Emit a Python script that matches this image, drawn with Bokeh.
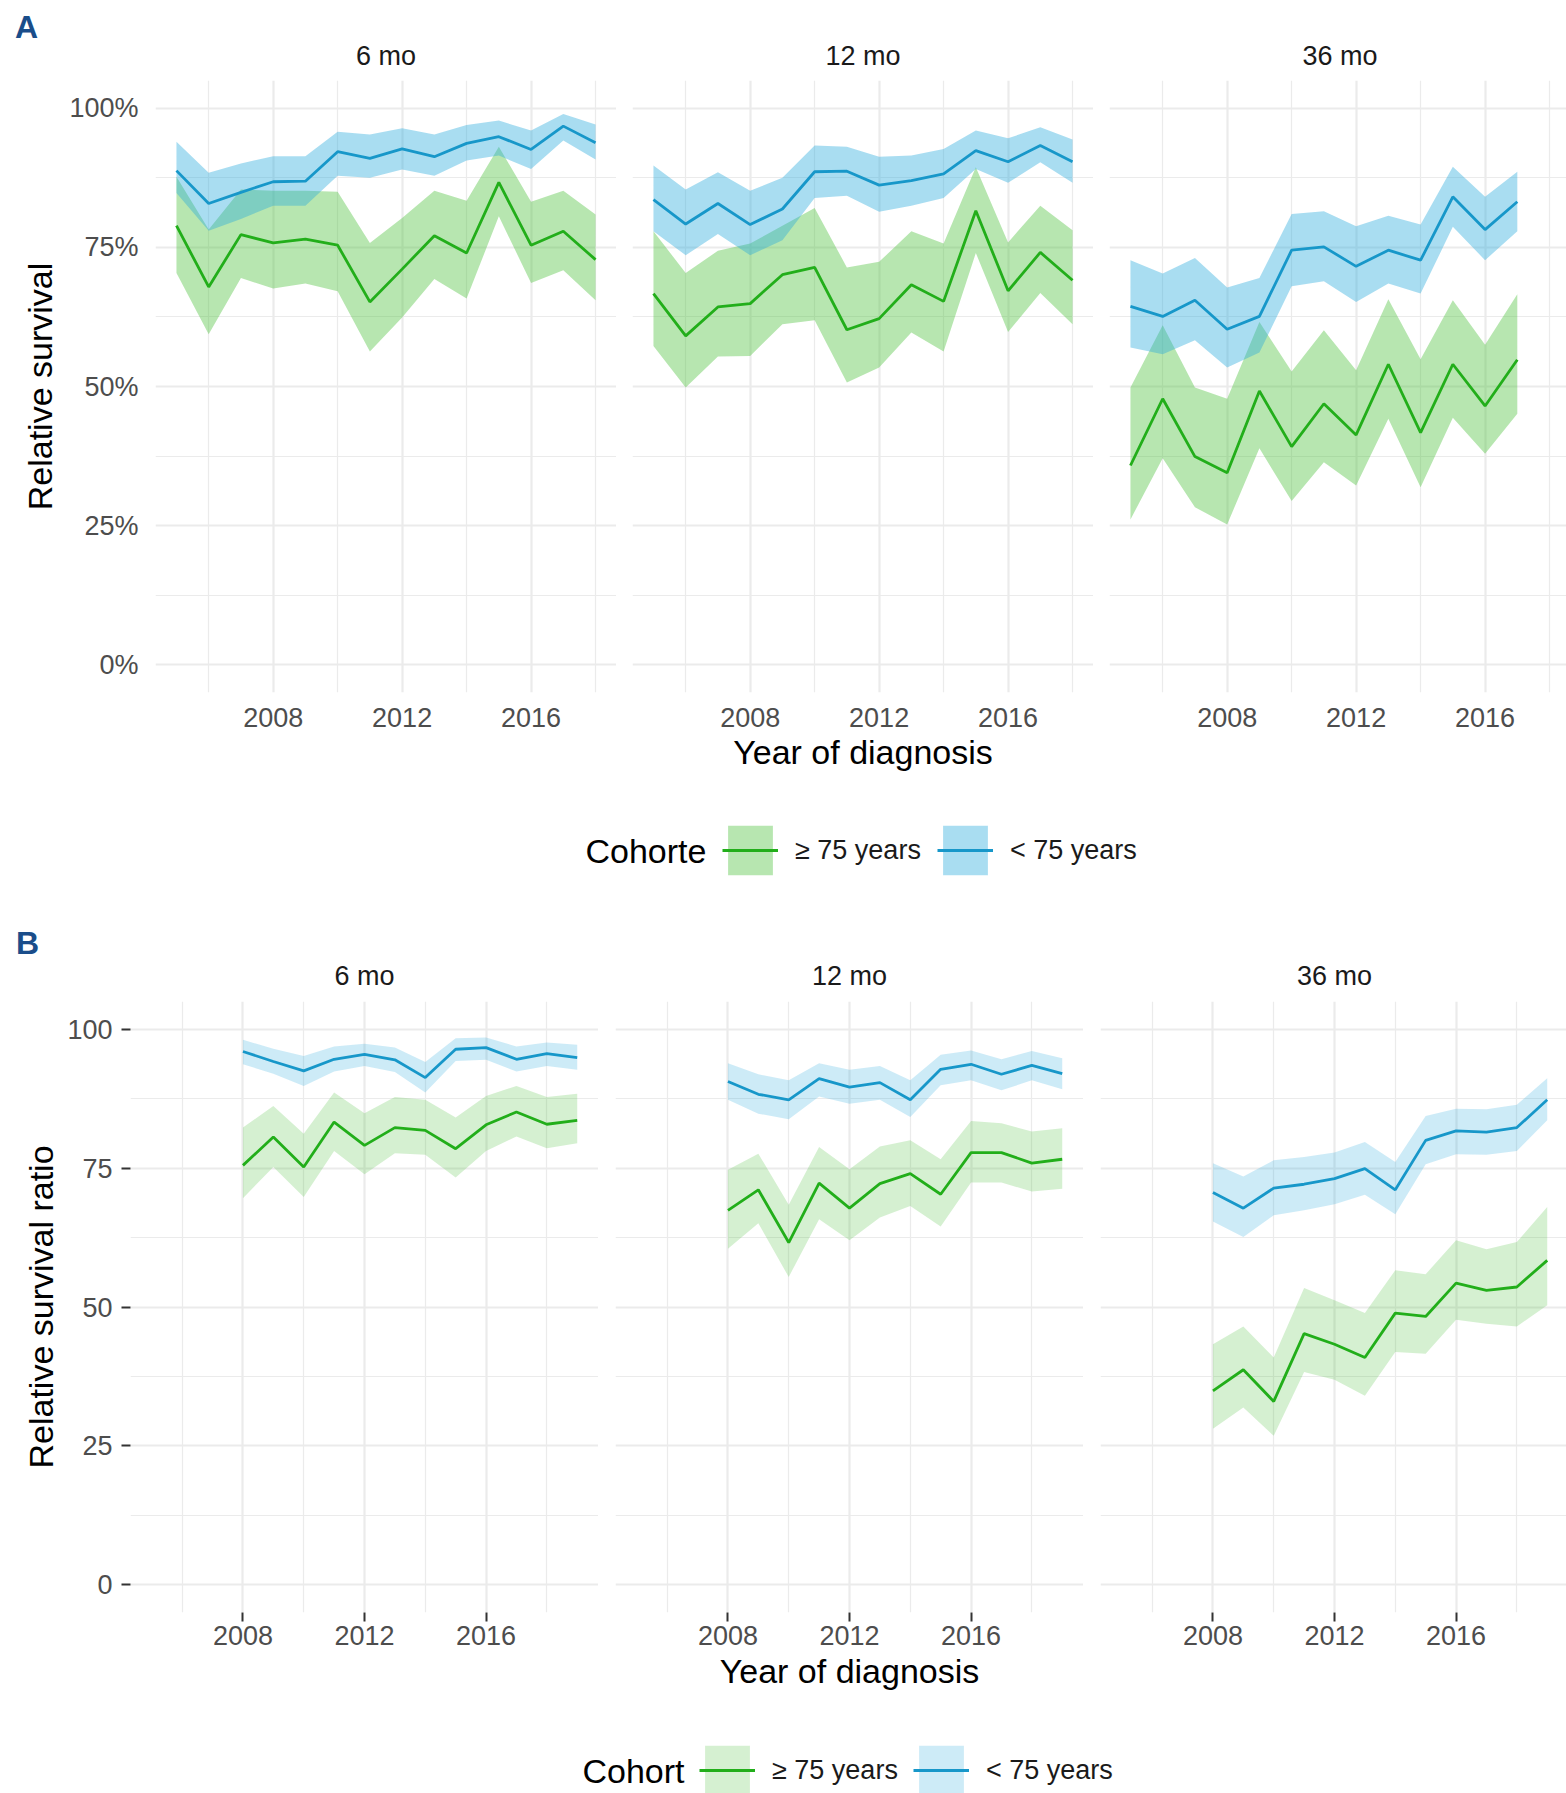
from bokeh.plotting import figure
from bokeh.models import (Range1d, FixedTicker, Label, Legend, LegendItem,
                          PrintfTickFormatter, ColumnDataSource)
from bokeh.layouts import column, row
from bokeh.embed import file_html
from bokeh.resources import INLINE

# ------------------------------------------------------------------ data
years_a = [2005, 2006, 2007, 2008, 2009, 2010, 2011, 2012, 2013, 2014, 2015, 2016, 2017, 2018]
years_a36 = [2005, 2006, 2007, 2008, 2009, 2010, 2011, 2012, 2013, 2014, 2015, 2016, 2017]
years_b = [2008, 2009, 2010, 2011, 2012, 2013, 2014, 2015, 2016, 2017, 2018, 2019]

cohort_labels = ["≥ 75 years", "< 75 years"]
facet_labels = ["6 mo", "12 mo", "36 mo"]
x_ticks = [2008, 2012, 2016]
x_minor = [2006, 2010, 2014, 2018]
y_ticks = [0, 25, 50, 75, 100]
y_minor = [12.5, 37.5, 62.5, 87.5]

# Panel A - relative survival (%)
a6_old = [78.9, 67.9, 77.3, 75.8, 76.5, 75.4, 65.2, 71.1, 77.1, 74.0, 86.7, 75.4, 77.9, 72.8]
a6_old_lo = [70.4, 59.4, 69.5, 67.6, 68.5, 67.1, 56.3, 62.4, 69.3, 65.8, 80.6, 68.6, 70.9, 65.5]
a6_old_hi = [87.7, 78.2, 85.4, 85.2, 85.2, 85.0, 75.8, 80.3, 85.2, 83.4, 93.1, 83.2, 85.2, 80.9]
a6_young = [88.8, 82.9, 84.9, 86.8, 86.9, 92.2, 91.0, 92.7, 91.3, 93.7, 94.9, 92.6, 96.8, 93.8]
a6_young_lo = [84.8, 78.0, 80.1, 82.5, 82.5, 87.9, 87.5, 89.0, 87.9, 90.6, 91.5, 89.1, 94.2, 90.8]
a6_young_hi = [94.0, 88.4, 90.1, 91.4, 91.4, 95.8, 95.3, 96.4, 95.3, 97.0, 97.8, 96.0, 99.0, 97.1]

a12_old = [66.7, 59.1, 64.3, 64.9, 70.1, 71.4, 60.2, 62.2, 68.3, 65.3, 81.6, 67.2, 74.1, 69.1]
a12_old_lo = [57.3, 49.8, 55.4, 55.5, 61.2, 61.9, 50.7, 53.4, 59.7, 56.3, 74.0, 59.8, 66.8, 61.2]
a12_old_hi = [77.9, 70.4, 74.4, 75.7, 78.9, 82.1, 71.4, 72.4, 77.9, 75.7, 89.4, 75.9, 82.5, 78.1]
a12_young = [83.6, 79.2, 82.9, 79.1, 81.9, 88.6, 88.7, 86.2, 87.0, 88.2, 92.4, 90.4, 93.3, 90.4]
a12_young_lo = [77.9, 73.6, 77.4, 73.6, 76.3, 83.9, 84.3, 81.4, 82.5, 83.9, 89.1, 86.6, 90.3, 86.6]
a12_young_hi = [89.7, 85.4, 88.5, 85.2, 87.5, 93.3, 93.1, 91.3, 91.5, 92.7, 96.0, 94.6, 96.6, 94.4]

a36_old = [35.8, 47.8, 37.4, 34.5, 49.2, 39.2, 46.9, 41.3, 54.0, 41.7, 54.0, 46.5, 54.8]
a36_old_lo = [26.1, 37.1, 28.3, 25.2, 38.9, 29.4, 36.4, 32.2, 44.2, 31.9, 44.4, 37.9, 45.1]
a36_old_hi = [49.8, 61.0, 49.8, 47.8, 61.6, 52.7, 60.1, 52.9, 65.7, 54.9, 65.5, 57.5, 66.6]
a36_young = [64.4, 62.6, 65.5, 60.3, 62.6, 74.5, 75.1, 71.6, 74.5, 72.7, 84.1, 78.2, 83.2]
a36_young_lo = [57.0, 55.8, 58.3, 53.4, 56.1, 68.0, 68.9, 65.2, 68.5, 66.7, 78.7, 72.7, 77.9]
a36_young_hi = [72.7, 70.3, 73.1, 67.8, 69.5, 81.0, 81.5, 78.8, 80.7, 79.1, 89.5, 84.1, 88.6]

# Panel B - relative survival ratio
b6_old = [75.5, 80.6, 75.2, 83.3, 79.1, 82.3, 81.8, 78.5, 82.8, 85.1, 82.9, 83.6]
b6_old_lo = [69.6, 75.2, 69.8, 78.1, 73.9, 77.7, 77.4, 73.3, 78.1, 80.7, 78.6, 79.5]
b6_old_hi = [82.3, 86.2, 81.2, 88.6, 84.9, 87.8, 87.3, 84.1, 88.0, 89.8, 87.8, 88.4]
b6_young = [96.0, 94.2, 92.5, 94.6, 95.5, 94.5, 91.3, 96.4, 96.7, 94.6, 95.6, 94.9]
b6_young_lo = [93.7, 92.0, 89.8, 92.4, 93.4, 92.3, 88.6, 94.3, 94.5, 92.4, 93.4, 92.7]
b6_young_hi = [98.1, 96.5, 95.2, 96.9, 97.4, 96.7, 94.1, 98.4, 98.5, 96.9, 97.6, 97.2]

b12_old = [67.4, 71.1, 61.6, 72.3, 67.8, 72.2, 74.0, 70.3, 77.8, 77.8, 75.9, 76.6]
b12_old_lo = [60.5, 65.1, 55.4, 65.8, 62.0, 66.1, 68.2, 64.5, 72.4, 72.4, 70.8, 71.3]
b12_old_hi = [74.7, 77.6, 68.4, 78.8, 74.8, 78.9, 80.0, 76.6, 83.5, 83.1, 81.6, 82.2]
b12_young = [90.6, 88.3, 87.3, 91.1, 89.6, 90.4, 87.3, 92.8, 93.7, 91.9, 93.5, 92.0]
b12_young_lo = [87.3, 84.8, 83.8, 87.9, 86.6, 87.3, 84.2, 89.9, 90.8, 89.0, 90.8, 89.2]
b12_young_hi = [93.9, 91.9, 90.8, 93.9, 92.7, 93.4, 90.8, 95.4, 96.2, 94.6, 96.1, 94.8]

b36_old = [34.9, 38.7, 33.0, 45.2, 43.3, 40.9, 48.9, 48.3, 54.3, 53.0, 53.6, 58.4]
b36_old_lo = [28.1, 31.9, 26.8, 38.3, 36.9, 34.0, 41.9, 41.6, 47.7, 47.0, 46.5, 50.3]
b36_old_hi = [43.3, 46.5, 40.9, 53.4, 51.2, 48.9, 56.6, 55.9, 62.0, 60.4, 61.7, 68.0]
b36_young = [70.6, 67.8, 71.4, 72.1, 73.1, 74.9, 71.1, 80.0, 81.7, 81.5, 82.3, 87.3]
b36_young_lo = [65.4, 62.6, 66.5, 67.4, 68.5, 70.2, 66.7, 75.7, 77.5, 77.4, 78.1, 83.6]
b36_young_hi = [75.9, 73.5, 76.4, 77.0, 77.8, 79.7, 76.1, 84.4, 85.7, 85.6, 86.4, 91.2]

# ------------------------------------------------------------------ style
FONT = "Liberation Sans"
GRID = "#ebebeb"
BLUE_LINE = "#1797c9"
GREEN_LINE = "#22ae1a"
BLUE_FILL = "#28aadc"
GREEN_FILL = "#4bc039"
LETTER = "#1a4d8a"
TOTAL_W = 1566


def blank_fig(width, height):
    p = figure(width=width, height=height, x_range=Range1d(0, 1), y_range=Range1d(0, 1),
               output_backend="svg", toolbar_location=None,
               x_axis_location=None, y_axis_location=None,
               min_border_left=0, min_border_right=0, min_border_top=0, min_border_bottom=0)
    p.outline_line_color = None
    p.xgrid.visible = False
    p.ygrid.visible = False
    return p


def make_facet(xs, old, old_lo, old_hi, young, young_lo, young_hi, *, x_start, x_span,
               full_w, frame_w, frame_h, b_left, b_top, b_bottom, fill_alpha,
               y_axis=False, y_label=None, y_fmt=None, ticks=False, x_label=None,
               xl_standoff=10, xa_standoff=2, yl_standoff=17, ya_standoff=11):
    x_end = x_start + x_span * frame_w / full_w
    p = figure(width=b_left + frame_w, height=b_top + frame_h + b_bottom,
               x_range=Range1d(x_start, x_end), y_range=Range1d(-5, 105),
               output_backend="svg", toolbar_location=None,
               y_axis_location="left" if y_axis else None,
               min_border_left=b_left, min_border_right=0,
               min_border_top=b_top, min_border_bottom=b_bottom)
    p.outline_line_color = None
    p.background_fill_color = "white"

    xt = FixedTicker(ticks=x_ticks, minor_ticks=x_minor)
    yt = FixedTicker(ticks=y_ticks, minor_ticks=y_minor)
    p.xaxis.ticker = xt
    p.xgrid.ticker = xt
    p.ygrid.ticker = yt
    if y_axis:
        p.yaxis.ticker = yt
    for g in (p.xgrid, p.ygrid):
        g.grid_line_color = GRID
        g.grid_line_width = 2.2
        g.minor_grid_line_color = GRID
        g.minor_grid_line_width = 1.2

    for ax in p.axis:
        ax.axis_line_color = None
        ax.major_label_text_font = FONT
        ax.major_label_text_font_size = "27px"
        ax.major_label_text_color = "#4d4d4d"
        ax.minor_tick_in = 0
        ax.minor_tick_out = 0
        ax.major_tick_in = 0
        ax.major_tick_out = 9 if ticks else 0
        ax.major_tick_line_color = "#333333"
        ax.major_tick_line_width = 2
        ax.axis_label_text_font = FONT
        ax.axis_label_text_font_size = "34px"
        ax.axis_label_text_font_style = "normal"
        ax.axis_label_text_color = "#000000"
    p.xaxis.major_label_standoff = xl_standoff
    p.xaxis.axis_label_standoff = xa_standoff
    if x_label:
        p.xaxis.axis_label = x_label
    if y_axis:
        p.yaxis.major_label_standoff = yl_standoff
        p.yaxis.axis_label_standoff = ya_standoff
        p.yaxis.axis_label = y_label
        if y_fmt:
            p.yaxis.formatter = PrintfTickFormatter(format=y_fmt)

    src = ColumnDataSource(dict(x=xs, old=old, old_lo=old_lo, old_hi=old_hi,
                                young=young, young_lo=young_lo, young_hi=young_hi))
    p.varea(x="x", y1="old_lo", y2="old_hi", source=src,
            fill_color=GREEN_FILL, fill_alpha=fill_alpha)
    p.varea(x="x", y1="young_lo", y2="young_hi", source=src,
            fill_color=BLUE_FILL, fill_alpha=fill_alpha)
    p.line(x="x", y="old", source=src, line_color=GREEN_LINE, line_width=2.8)
    p.line(x="x", y="young", source=src, line_color=BLUE_LINE, line_width=2.8)
    return p


def make_header(height, letter, letter_xy, strip_xs, strip_y):
    p = blank_fig(TOTAL_W, height)
    p.add_layout(Label(x=letter_xy[0], y=letter_xy[1], x_units="screen", y_units="screen",
                       text=letter, text_align="center", text_baseline="middle",
                       text_font=FONT, text_font_size="32px", text_font_style="bold",
                       text_color=LETTER))
    for sx, txt in zip(strip_xs, facet_labels):
        p.add_layout(Label(x=sx, y=strip_y, x_units="screen", y_units="screen",
                           text=txt, text_align="center", text_baseline="middle",
                           text_font=FONT, text_font_size="27px", text_color="#1a1a1a"))
    return p


def make_legend(title, height, loc, title_pos, fill_alpha, standoff, spacing):
    # keys reuse the 6-month series; the figure's range keeps the marks out of view
    p = blank_fig(TOTAL_W, height)
    src = ColumnDataSource(dict(x=years_a, old_lo=a6_old_lo, old_hi=a6_old_hi, old=a6_old,
                                young_lo=a6_young_lo, young_hi=a6_young_hi, young=a6_young))
    ga = p.varea(x="x", y1="old_lo", y2="old_hi", source=src,
                 fill_color=GREEN_FILL, fill_alpha=fill_alpha)
    gl = p.line(x="x", y="old", source=src, line_color=GREEN_LINE, line_width=2.8)
    ba = p.varea(x="x", y1="young_lo", y2="young_hi", source=src,
                 fill_color=BLUE_FILL, fill_alpha=fill_alpha)
    bl = p.line(x="x", y="young", source=src, line_color=BLUE_LINE, line_width=2.8)
    leg = Legend(items=[LegendItem(label=cohort_labels[0], renderers=[ga, gl]),
                        LegendItem(label=cohort_labels[1], renderers=[ba, bl])],
                 orientation="horizontal", location=loc,
                 glyph_width=56, glyph_height=62, label_height=62,
                 label_standoff=standoff, spacing=spacing, padding=0, margin=0,
                 border_line_color=None, background_fill_alpha=0,
                 label_text_font=FONT, label_text_font_size="27px",
                 label_text_color="#1a1a1a")
    p.add_layout(leg)
    p.add_layout(Label(x=title_pos[0], y=title_pos[1], x_units="screen", y_units="screen",
                       text=title, text_align="left", text_baseline="middle",
                       text_font=FONT, text_font_size="34px", text_color="#000000"))
    return p


# ------------------------------------------------------------------ panel A
A_FULL = 461
A_LEFT = [155, 16, 16]
a_frames = [A_FULL, A_FULL, TOTAL_W - 155 - A_FULL - 16 - A_FULL - 16]
a_common = dict(x_start=2004.35, x_span=14.3, full_w=A_FULL, frame_h=612,
                b_top=2, b_bottom=98, fill_alpha=0.4, xl_standoff=15, xa_standoff=3)
pa1 = make_facet(years_a, a6_old, a6_old_lo, a6_old_hi, a6_young, a6_young_lo, a6_young_hi,
                 frame_w=a_frames[0], b_left=A_LEFT[0], y_axis=True,
                 y_label="Relative survival", y_fmt="%d%%", yl_standoff=17, ya_standoff=7,
                 **a_common)
pa2 = make_facet(years_a, a12_old, a12_old_lo, a12_old_hi, a12_young, a12_young_lo, a12_young_hi,
                 frame_w=a_frames[1], b_left=A_LEFT[1], x_label="Year of diagnosis", **a_common)
pa3 = make_facet(years_a36, a36_old, a36_old_lo, a36_old_hi, a36_young, a36_young_lo, a36_young_hi,
                 frame_w=a_frames[2], b_left=A_LEFT[2], **a_common)

a_centers = []
pos = 0
for bl, fw in zip(A_LEFT, a_frames):
    pos += bl
    a_centers.append(pos + A_FULL / 2)
    pos += fw
head_a = make_header(78, "A", (26, 52), a_centers, 23)
leg_a = make_legend("Cohorte", 122, (722, 31), (585, 62), 0.4, 17, 16)

# ------------------------------------------------------------------ panel B
B_FULL = 468
B_LEFT = [130, 17, 17]
b_frames = [B_FULL, B_FULL, TOTAL_W - 130 - B_FULL - 17 - B_FULL - 17]
b_common = dict(x_start=2004.3, x_span=15.4, full_w=B_FULL, frame_h=611,
                b_top=2, b_bottom=108, fill_alpha=0.233, ticks=True,
                xl_standoff=4, xa_standoff=4)
pb1 = make_facet(years_b, b6_old, b6_old_lo, b6_old_hi, b6_young, b6_young_lo, b6_young_hi,
                 frame_w=b_frames[0], b_left=B_LEFT[0], y_axis=True,
                 y_label="Relative survival ratio", yl_standoff=9, ya_standoff=4, **b_common)
pb2 = make_facet(years_b, b12_old, b12_old_lo, b12_old_hi, b12_young, b12_young_lo, b12_young_hi,
                 frame_w=b_frames[1], b_left=B_LEFT[1], x_label="Year of diagnosis", **b_common)
pb3 = make_facet(years_b, b36_old, b36_old_lo, b36_old_hi, b36_young, b36_young_lo, b36_young_hi,
                 frame_w=b_frames[2], b_left=B_LEFT[2], **b_common)

b_centers = []
pos = 0
for bl, fw in zip(B_LEFT, b_frames):
    pos += bl
    b_centers.append(pos + B_FULL / 2)
    pos += fw
head_b = make_header(87, "B", (27, 57), b_centers, 24)
leg_b = make_legend("Cohort", 73, (699, -8), (582, 23), 0.233, 17, 15)

layout = column(head_a, row(pa1, pa2, pa3), leg_a, head_b, row(pb1, pb2, pb3), leg_b)
open("out.html", "w").write(file_html(layout, INLINE))
